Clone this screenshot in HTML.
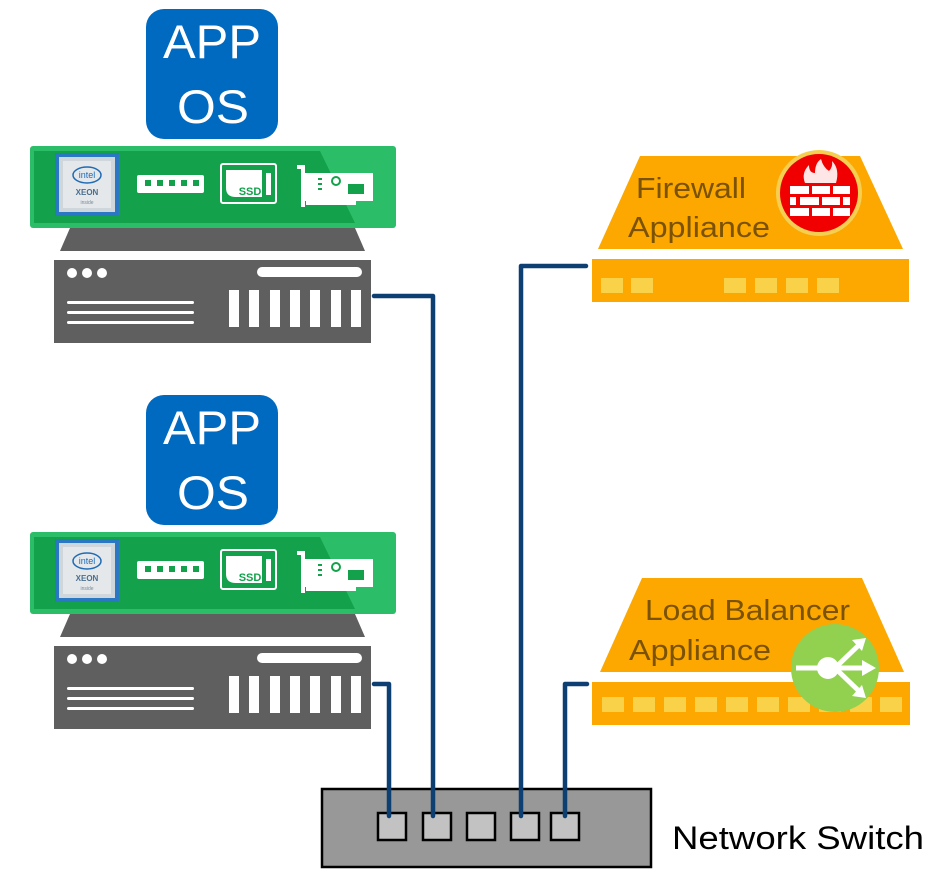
<!DOCTYPE html>
<html><head><meta charset="utf-8"><style>
html,body{margin:0;padding:0;background:#fff}
svg{display:block}
text{font-family:"Liberation Sans","DejaVu Sans",sans-serif}
</style></head><body>
<svg width="937" height="881" viewBox="0 0 937 881" xmlns="http://www.w3.org/2000/svg">
<defs>
<g id="srv">
  <rect x="146" y="9" width="132" height="130" rx="18" fill="#0069c0"/>
  <text x="163" y="58" font-size="47" fill="#fff" textLength="98" lengthAdjust="spacingAndGlyphs">APP</text>
  <text x="177" y="123" font-size="47" fill="#fff" textLength="72" lengthAdjust="spacingAndGlyphs">OS</text>
  <rect x="30" y="146" width="366" height="82" rx="3" fill="#2bbd68"/>
  <rect x="34" y="151" width="358" height="72" fill="#13a24b"/>
  <polygon points="320,151 392,151 392,223 355,223" fill="#2bbd68"/>
  <rect x="55" y="153" width="64" height="63" fill="#2a78c4"/>
  <rect x="59" y="157" width="56" height="55" fill="#cfd6dc"/>
  <rect x="63" y="161" width="48" height="47" fill="#e4e8ea"/>
  <ellipse cx="87" cy="175" rx="14" ry="8" fill="none" stroke="#1f6bb5" stroke-width="1.5"/>
  <text x="87" y="178" font-size="9" fill="#1f6bb5" text-anchor="middle">intel</text>
  <text x="87" y="195" font-size="8" fill="#4b6e8e" text-anchor="middle" font-weight="bold">XEON</text>
  <text x="87" y="204" font-size="5" fill="#7a8a99" text-anchor="middle">inside</text>
  <rect x="137" y="175" width="67" height="18" rx="2" fill="#fff"/>
  <g fill="#13a24b"><rect x="145" y="180" width="6" height="6"/><rect x="157" y="180" width="6" height="6"/><rect x="169" y="180" width="6" height="6"/><rect x="181" y="180" width="6" height="6"/><rect x="193" y="180" width="6" height="6"/></g>
  <rect x="221" y="164" width="55" height="39" rx="2" fill="none" stroke="#fff" stroke-width="2"/>
  <path d="M226 170 H262 V197 H236 Q226 197 226 188 Z" fill="#fff"/>
  <text x="250" y="195" font-size="11" font-weight="bold" fill="#13a24b" text-anchor="middle">SSD</text>
  <rect x="266" y="173" width="5" height="22" fill="#fff"/>
  <path d="M297 165 h8 v42 h-4 v-38 h-4 z" fill="#fff"/>
  <rect x="305" y="173" width="68" height="28" fill="#fff"/>
  <rect x="306" y="201" width="50" height="4" fill="#fff"/>
  <circle cx="336" cy="181" r="4" fill="none" stroke="#13a24b" stroke-width="2"/>
  <rect x="348" y="184" width="16" height="10" fill="#13a24b"/>
  <g fill="#13a24b"><rect x="318" y="178" width="4" height="2"/><rect x="318" y="183" width="4" height="2"/><rect x="318" y="188" width="4" height="2"/></g>
  <polygon points="70,228 355,228 365,251 60,251" fill="#5f5f5f"/>
  <rect x="54" y="260" width="317" height="83" fill="#5f5f5f"/>
  <circle cx="72" cy="273" r="5" fill="#fff"/><circle cx="87" cy="273" r="5" fill="#fff"/><circle cx="102" cy="273" r="5" fill="#fff"/>
  <rect x="257" y="267" width="105" height="10" rx="5" fill="#fff"/>
  <rect x="67" y="301" width="127" height="3" rx="1.5" fill="#fff"/>
  <rect x="67" y="311" width="127" height="3" rx="1.5" fill="#fff"/>
  <rect x="67" y="321" width="127" height="3" rx="1.5" fill="#fff"/>
  <g fill="#fff"><rect x="229" y="290" width="10" height="37"/><rect x="249" y="290" width="10" height="37"/><rect x="270" y="290" width="10" height="37"/><rect x="290" y="290" width="10" height="37"/><rect x="310" y="290" width="10" height="37"/><rect x="331" y="290" width="10" height="37"/><rect x="351" y="290" width="10" height="37"/></g>
</g>
</defs>
<use href="#srv"/>
<use href="#srv" y="386"/>

<!-- Firewall -->
<polygon points="640,156 860,156 903,249 598,249" fill="#fca800"/>
<rect x="592" y="259" width="317" height="43" fill="#fca800"/>
<g fill="#f9d24a"><rect x="601" y="278" width="22" height="15"/><rect x="631" y="278" width="22" height="15"/><rect x="724" y="278" width="22" height="15"/><rect x="755" y="278" width="22" height="15"/><rect x="786" y="278" width="22" height="15"/><rect x="817" y="278" width="22" height="15"/></g>
<text x="636" y="198" font-size="29" fill="#7a5200" textLength="110" lengthAdjust="spacingAndGlyphs">Firewall</text>
<text x="628" y="237" font-size="29" fill="#7a5200" textLength="142" lengthAdjust="spacingAndGlyphs">Appliance</text>
<circle cx="819" cy="193" r="43" fill="#f5cf52"/>
<circle cx="819" cy="193" r="39" fill="#f00000"/>
<path d="M805 183 q-4-10 4-18 q0 8 6 8 q0-10 6-14 q2 8 8 12 q4-4 3-10 q8 8 4 22 z" fill="#fff" opacity="0.9"/>
<g fill="#fff"><rect x="790" y="186" width="19" height="8"/><rect x="812" y="186" width="18" height="8"/><rect x="833" y="186" width="17" height="8"/>
<rect x="790" y="197" width="6" height="8"/><rect x="800" y="197" width="19" height="8"/><rect x="822" y="197" width="18" height="8"/><rect x="843" y="197" width="7" height="8"/>
<rect x="790" y="208" width="19" height="8"/><rect x="812" y="208" width="18" height="8"/><rect x="833" y="208" width="17" height="8"/></g>

<!-- Load balancer -->
<polygon points="642,578 862,578 904,672 600,672" fill="#fca800"/>
<rect x="592" y="682" width="318" height="43" fill="#fca800"/>
<g fill="#f9d24a"><rect x="602" y="697" width="22" height="15"/><rect x="633" y="697" width="22" height="15"/><rect x="664" y="697" width="22" height="15"/><rect x="695" y="697" width="22" height="15"/><rect x="726" y="697" width="22" height="15"/><rect x="757" y="697" width="22" height="15"/><rect x="788" y="697" width="22" height="15"/><rect x="819" y="697" width="22" height="15"/><rect x="850" y="697" width="22" height="15"/><rect x="880" y="697" width="22" height="15"/></g>
<text x="645" y="620" font-size="29" fill="#7a5200" textLength="205" lengthAdjust="spacingAndGlyphs">Load Balancer</text>
<text x="629" y="660" font-size="29" fill="#7a5200" textLength="142" lengthAdjust="spacingAndGlyphs">Appliance</text>
<circle cx="835" cy="668" r="44" fill="#92d050"/>
<g stroke="#fff" stroke-width="5" fill="none"><line x1="796" y1="668" x2="870" y2="668"/><line x1="835" y1="668" x2="862" y2="642"/><line x1="835" y1="668" x2="862" y2="694"/></g>
<circle cx="828" cy="668" r="11" fill="#fff"/>
<g fill="#fff"><polygon points="876,668 862,660 862,676"/><polygon points="866,638 852,640 862,651"/><polygon points="866,698 852,696 862,685"/></g>

<!-- Switch -->
<rect x="322" y="789" width="329" height="78" fill="#989898" stroke="#000" stroke-width="2.5"/>
<g fill="#c2c2c2" stroke="#000" stroke-width="2.5"><rect x="378" y="813" width="28" height="27"/><rect x="423" y="813" width="28" height="27"/><rect x="467" y="813" width="28" height="27"/><rect x="511" y="813" width="28" height="27"/><rect x="551" y="813" width="28" height="27"/></g>
<text x="672" y="849" font-size="32" fill="#000" textLength="252" lengthAdjust="spacingAndGlyphs">Network Switch</text>

<!-- connectors -->
<g stroke="#0d3f73" stroke-width="4.5" fill="none" stroke-linecap="round" stroke-linejoin="round">
<polyline points="374,296 433,296 433,816"/>
<polyline points="374,684 389,684 389,816"/>
<polyline points="586,266 521,266 521,816"/>
<polyline points="587,684 565,684 565,816"/>
</g>
</svg>
</body></html>
